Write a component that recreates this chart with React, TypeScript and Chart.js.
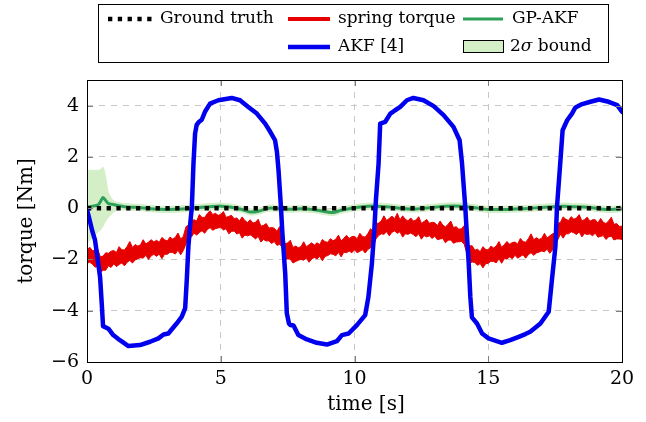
import React, { useEffect, useRef } from 'react';
import { Chart, registerables } from 'chart.js';
Chart.register(...registerables);

// ---------- data ----------
const X_TICKS = [0, 5, 10, 15, 20];
const Y_TICKS = [-6, -4, -2, 0, 2, 4];

const GT_T = [0, 20];
const GT_V = [0, 0];

// spring torque: upper / lower envelope of the noisy measurement, sampled every 0.1 s
const RED_UP = [
  -1.63, -1.52, -1.65, -1.65, -1.6, -1.9, -1.87, -1.74, -1.76, -1.68,
  -1.65, -1.73, -1.5, -1.62, -1.63, -1.49, -1.3, -1.53, -1.42, -1.48,
  -1.43, -1.23, -1.4, -1.32, -1.23, -1.32, -1.25, -1.33, -1.14, -1.23,
  -1.28, -1.13, -1.2, -1.14, -0.97, -1.2, -1.1, -0.72, -0.66, -0.5,
  -0.45, -0.5, -0.25, -0.36, -0.36, -0.21, -0.1, -0.25, -0.2, -0.28,
  -0.25, -0.13, -0.36, -0.32, -0.28, -0.41, -0.38, -0.5, -0.34, -0.48,
  -0.56, -0.45, -0.58, -0.55, -0.43, -0.7, -0.67, -0.6, -0.78, -0.75,
  -0.78, -0.9, -0.72, -0.99, -1.38, -1.36, -1.25, -1.53, -1.48, -1.54,
  -1.5, -1.31, -1.5, -1.43, -1.35, -1.44, -1.35, -1.42, -1.22, -1.31,
  -1.33, -1.19, -1.27, -1.21, -1.05, -1.28, -1.17, -1.06, -1.18, -1.11,
  -1.1, -1.19, -0.98, -1.1, -1.13, -0.99, -0.8, -0.9, -0.6, -0.58,
  -0.5, -0.3, -0.48, -0.4, -0.31, -0.41, -0.2, -0.46, -0.3, -0.43,
  -0.5, -0.38, -0.5, -0.46, -0.33, -0.59, -0.52, -0.44, -0.59, -0.55,
  -0.57, -0.68, -0.5, -0.66, -0.73, -0.63, -0.5, -0.76, -0.72, -0.82,
  -0.8, -0.68, -1.33, -1.47, -1.47, -1.64, -1.6, -1.7, -1.5, -1.6,
  -1.63, -1.48, -1.55, -1.48, -1.3, -1.53, -1.42, -1.3, -1.41, -1.34,
  -1.32, -1.4, -1.18, -1.3, -1.33, -1.19, -1.0, -1.23, -1.15, -1.22,
  -1.17, -0.98, -1.16, -1.08, -1.0, -0.96, -0.6, -0.55, -0.34, -0.43,
  -0.48, -0.33, -0.43, -0.38, -0.25, -0.5, -0.44, -0.35, -0.51, -0.45,
  -0.45, -0.58, -0.4, -0.55, -0.6, -0.5, -0.35, -0.63, -0.6, -0.71,
  -0.7,
];
const RED_LO = [
  -2.15, -2.11, -2.18, -2.3, -2.27, -2.52, -2.42, -2.42, -2.25, -2.31,
  -2.17, -2.28, -2.2, -2.14, -2.25, -2.11, -2.04, -2.14, -2.02, -1.97,
  -1.93, -1.95, -1.84, -2.0, -1.86, -1.8, -1.88, -1.79, -1.97, -1.8,
  -1.8, -1.72, -1.73, -1.79, -1.64, -1.82, -1.65, -1.4, -1.15, -1.13,
  -0.97, -1.05, -0.95, -0.88, -0.98, -0.83, -0.76, -0.86, -0.8, -0.77,
  -0.75, -0.85, -0.8, -1.0, -0.91, -0.89, -1.01, -0.96, -1.17, -1.05,
  -1.08, -1.04, -1.11, -1.2, -1.1, -1.32, -1.22, -1.28, -1.27, -1.38,
  -1.3, -1.45, -1.42, -1.51, -2.0, -1.98, -1.99, -2.14, -2.08, -2.03,
  -2.0, -2.03, -1.94, -2.11, -1.98, -1.92, -1.98, -1.88, -2.05, -1.88,
  -1.85, -1.78, -1.8, -1.86, -1.72, -1.9, -1.72, -1.74, -1.67, -1.74,
  -1.62, -1.74, -1.68, -1.62, -1.75, -1.61, -1.54, -1.51, -1.2, -1.07,
  -1.0, -1.02, -0.92, -1.08, -0.94, -0.89, -0.98, -0.92, -1.13, -1.0,
  -1.02, -0.97, -1.03, -1.11, -1.0, -1.21, -1.07, -1.12, -1.08, -1.18,
  -1.09, -1.23, -1.2, -1.18, -1.35, -1.25, -1.24, -1.37, -1.32, -1.31,
  -1.3, -1.4, -1.77, -2.15, -2.1, -2.12, -2.23, -2.16, -2.33, -2.17,
  -2.15, -2.07, -2.08, -2.13, -1.97, -2.15, -1.97, -1.98, -1.9, -1.97,
  -1.84, -1.95, -1.88, -1.82, -1.95, -1.81, -1.74, -1.84, -1.75, -1.71,
  -1.67, -1.7, -1.6, -1.76, -1.63, -1.44, -1.23, -1.01, -1.17, -1.0,
  -1.0, -0.92, -0.96, -1.03, -0.92, -1.12, -0.99, -1.03, -1.0, -1.08,
  -0.97, -1.13, -1.1, -1.07, -1.22, -1.12, -1.09, -1.24, -1.2, -1.2,
  -1.22,
];
const RED_STEP = 0.1;

// GP-AKF estimate and its 2-sigma bound
const GP_T = [
  0, 0.2, 0.4, 0.5, 0.6, 0.7, 0.8, 1.0, 1.2, 1.5,
  2.0, 2.5, 2.9, 3.3, 3.8, 4.2, 4.6, 5.0, 5.4, 5.8,
  6.1, 6.4, 6.8, 7.2, 7.6, 8.0, 8.5, 9.0, 9.2, 9.5,
  9.8, 10.3, 10.8, 11.3, 11.8, 12.3, 12.8, 13.4, 14.0, 14.5,
  15.0, 15.5, 16.0, 16.5, 17.0, 17.5, 17.8, 18.2, 18.7, 19.2,
  19.6, 20.0,
];
const GP_MEAN = [
  0.05, 0.08, 0.12, 0.25, 0.42, 0.3, 0.18, 0.14, 0.1, 0.05,
  0.02, -0.03, -0.05, -0.04, -0.01, 0.03, 0.06, 0.08, 0.04, -0.05,
  -0.15, -0.12, 0.0, -0.02, -0.04, -0.02, -0.06, -0.15, -0.17, -0.08,
  -0.02, 0.06, 0.08, 0.05, -0.01, -0.03, 0.02, 0.08, 0.08, 0.02,
  -0.05, -0.05, -0.03, -0.01, 0.03, 0.06, 0.08, 0.06, 0.04, -0.03,
  -0.05, -0.02,
];
const GP_UP = [
  1.48, 1.48, 1.48, 1.5, 1.6, 1.2, 0.6, 0.28, 0.22, 0.17,
  0.14, 0.09, 0.07, 0.08, 0.11, 0.15, 0.18, 0.2, 0.16, 0.07,
  -0.03, 0.0, 0.12, 0.1, 0.08, 0.1, 0.06, -0.03, -0.05, 0.04,
  0.1, 0.18, 0.2, 0.17, 0.11, 0.09, 0.14, 0.2, 0.2, 0.14,
  0.07, 0.07, 0.09, 0.11, 0.15, 0.18, 0.2, 0.18, 0.16, 0.09,
  0.07, 0.1,
];
const GP_LO = [
  -1.35, -1.15, -0.95, -0.85, -0.7, -0.5, -0.35, -0.15, -0.06, -0.08,
  -0.1, -0.15, -0.17, -0.16, -0.13, -0.09, -0.06, -0.04, -0.08, -0.17,
  -0.27, -0.24, -0.12, -0.14, -0.16, -0.14, -0.18, -0.27, -0.29, -0.2,
  -0.14, -0.06, -0.04, -0.07, -0.13, -0.15, -0.1, -0.04, -0.04, -0.1,
  -0.17, -0.17, -0.15, -0.13, -0.09, -0.06, -0.04, -0.06, -0.08, -0.15,
  -0.17, -0.14,
];

// AKF [4]
const AKF_T = [
  0, 0.07, 0.2, 0.3, 0.4, 0.49, 0.55, 0.6, 0.8, 0.98,
  1.23, 1.55, 1.98, 2.36, 2.67, 2.86, 3.04, 3.35, 3.54, 3.67,
  3.73, 3.79, 3.86, 3.92, 3.98, 4.04, 4.1, 4.17, 4.29, 4.41,
  4.6, 4.91, 5.41, 5.72, 6.03, 6.35, 6.66, 6.85, 7.03, 7.1,
  7.16, 7.25, 7.3, 7.41, 7.47, 7.55, 7.6, 7.72, 7.9, 8.22,
  8.59, 8.97, 9.34, 9.53, 9.78, 10.09, 10.4, 10.52, 10.65, 10.74,
  10.8, 10.9, 10.96, 11.15, 11.34, 11.52, 11.71, 11.96, 12.2, 12.58,
  12.96, 13.33, 13.7, 13.93, 14.02, 14.14, 14.2, 14.27, 14.33, 14.39,
  14.58, 14.77, 15.01, 15.51, 15.82, 16.14, 16.39, 16.57, 16.95, 17.26,
  17.38, 17.51, 17.57, 17.69, 17.78, 17.95, 18.13, 18.26, 18.51, 18.82,
  19.14, 19.5, 19.82, 20,
];
const AKF_V = [
  -0.05, -0.35, -0.9, -1.25, -2.0, -2.7, -3.7, -4.6, -4.7, -4.95,
  -5.15, -5.38, -5.34, -5.21, -5.08, -4.93, -4.89, -4.5, -4.24, -3.9,
  -2.8, -1.5, -0.6, 0.05, 1.74, 2.91, 3.25, 3.35, 3.45, 3.76,
  4.08, 4.21, 4.3, 4.21, 3.95, 3.69, 3.3, 2.98, 2.65, 2.2,
  1.48, 0.05, -0.9, -2.55, -4.1, -4.5, -4.56, -4.58, -4.95, -5.12,
  -5.25, -5.32, -5.19, -4.95, -4.89, -4.56, -4.17, -3.46, -2.16, -0.86,
  0.3, 1.74, 3.3, 3.37, 3.69, 3.82, 3.95, 4.21, 4.3, 4.21,
  3.98, 3.63, 3.17, 2.65, 1.74, 0.05, -1.0, -2.16, -3.46, -4.26,
  -4.5, -4.89, -5.08, -5.25, -5.15, -5.02, -4.91, -4.82, -4.5, -4.04,
  -2.8, -1.5, 0.05, 1.74, 3.04, 3.43, 3.69, 3.93, 4.06, 4.15,
  4.24, 4.15, 4.02, 3.76,
];

// ---------- styles ----------
const RED = '#e60000';
const BLUE = '#0000ee';
const GREEN = '#2ea05a';
const BAND = '#d4eec8';
const SERIF = '"DejaVu Serif", serif';

const pts = (xs: number[], ys: number[]) => xs.map((x, i) => ({ x, y: ys[i] }));
const fmt = (v: number) => (v < 0 ? '\u2212' + Math.abs(v) : String(v));

const framePlugin = {
  id: 'pgfFrame',
  afterDatasetsDraw(chart: any) {
    const { ctx, chartArea: a, scales } = chart;
    ctx.save();
    ctx.strokeStyle = '#808080';
    ctx.lineWidth = 1;
    const tl = 6;
    X_TICKS.forEach((t) => {
      const x = Math.round(scales.x.getPixelForValue(t)) + 0.5;
      ctx.beginPath();
      ctx.moveTo(x, a.bottom); ctx.lineTo(x, a.bottom - tl);
      ctx.moveTo(x, a.top); ctx.lineTo(x, a.top + tl);
      ctx.stroke();
    });
    Y_TICKS.forEach((t) => {
      const y = Math.round(scales.y.getPixelForValue(t)) + 0.5;
      ctx.beginPath();
      ctx.moveTo(a.left, y); ctx.lineTo(a.left + tl, y);
      ctx.moveTo(a.right, y); ctx.lineTo(a.right - tl, y);
      ctx.stroke();
    });
    ctx.strokeStyle = '#000';
    ctx.strokeRect(Math.round(a.left) + 0.5, Math.round(a.top) + 0.5,
      Math.round(a.right - a.left), Math.round(a.bottom - a.top));
    ctx.restore();
  },
};

const legendPlugin = {
  id: 'pgfLegend',
  afterDraw(chart: any) {
    const ctx = chart.ctx;
    ctx.save();
    // x-axis title
    ctx.font = '20px ' + SERIF;
    ctx.fillStyle = '#000';
    ctx.textAlign = 'center';
    ctx.textBaseline = 'middle';
    ctx.fillText('time [s]', 366, 405);

    ctx.strokeStyle = '#000';
    ctx.lineWidth = 1;
    ctx.strokeRect(98.5, 4.5, 510, 58);
    const font = '17px ' + SERIF;
    ctx.font = font;
    ctx.textAlign = 'left';
    const r1 = 19, r2 = 47;
    const line = (x1: number, x2: number, y: number, color: string, w: number, dash: number[] = []) => {
      ctx.save();
      ctx.strokeStyle = color; ctx.lineWidth = w; ctx.setLineDash(dash); ctx.lineCap = 'butt';
      ctx.beginPath(); ctx.moveTo(x1, y); ctx.lineTo(x2, y); ctx.stroke();
      ctx.restore();
    };
    line(108, 152, r1, '#000', 4.5, [4.3, 5.5]);
    ctx.fillText('Ground truth', 160, r1);
    line(288, 330, r1, RED, 4);
    ctx.fillText('spring torque', 338, r1);
    line(463, 503, r1, GREEN, 3);
    ctx.fillText('GP-AKF', 512, r1);
    line(288, 330, r2, BLUE, 4.5);
    ctx.fillText('AKF [4]', 338, r2);
    ctx.fillStyle = BAND;
    ctx.fillRect(463.5, r2 - 6.5, 40, 12);
    ctx.strokeRect(463.5, r2 - 6.5, 40, 12);
    ctx.fillStyle = '#000';
    let x = 510;
    ctx.fillText('2', x, r2); x += ctx.measureText('2').width;
    ctx.font = 'italic ' + font;
    ctx.fillText('\u03c3', x, r2); x += ctx.measureText('\u03c3').width;
    ctx.font = font;
    ctx.fillText(' bound', x, r2);
    ctx.restore();
  },
};

export default function App() {
  const ref = useRef<HTMLCanvasElement | null>(null);
  useEffect(() => {
    if (!ref.current) return;
    const redT = RED_UP.map((_, i) => +(i * RED_STEP).toFixed(2));
    const chart = new Chart(ref.current, {
      type: 'line',
      data: {
        datasets: [
          { label: 'AKF [4]', data: pts(AKF_T, AKF_V), borderColor: BLUE, borderWidth: 4.5,
            pointRadius: 0, fill: false, order: 0, borderJoinStyle: 'round', borderCapStyle: 'round' } as any,
          { label: 'Ground truth', data: pts(GT_T, GT_V), borderColor: '#000', borderWidth: 4.5,
            borderDash: [4.3, 5.5], borderCapStyle: 'butt', pointRadius: 0, fill: false, order: 1 } as any,
          { label: 'GP-AKF', data: pts(GP_T, GP_MEAN), borderColor: GREEN, borderWidth: 3,
            pointRadius: 0, fill: false, order: 2, tension: 0.3 } as any,
          { label: 'spring torque', data: pts(redT, RED_UP), borderColor: RED, borderWidth: 1,
            backgroundColor: RED, pointRadius: 0, fill: '+1', order: 3 } as any,
          { label: 'spring lower', data: pts(redT, RED_LO), borderColor: RED, borderWidth: 1,
            pointRadius: 0, fill: false, order: 4 } as any,
          { label: '2σ bound', data: pts(GP_T, GP_UP), borderColor: BAND, borderWidth: 1,
            backgroundColor: BAND, pointRadius: 0, fill: '+1', order: 5, tension: 0.3 } as any,
          { label: 'band lower', data: pts(GP_T, GP_LO), borderColor: BAND, borderWidth: 1,
            pointRadius: 0, fill: false, order: 6, tension: 0.3 } as any,
        ],
      },
      options: {
        animation: false,
        responsive: true,
        maintainAspectRatio: false,
        layout: { padding: { top: 80, right: 24, left: 0, bottom: 0 } },
        plugins: { legend: { display: false }, tooltip: { enabled: false } },
        scales: {
          x: {
            type: 'linear', min: 0, max: 20,
            afterBuildTicks: (s: any) => { s.ticks = X_TICKS.map((v) => ({ value: v })); },
            afterFit: (s: any) => { s.height = 60; },
            ticks: { color: '#000', font: { family: SERIF, size: 19 }, padding: 6,
              callback: (v: any) => fmt(Number(v)), maxRotation: 0 },
            grid: { color: '#c8c8c8', lineWidth: 1, drawTicks: false },
            border: { display: false, dash: [6, 6] },
            title: { display: false },
          },
          y: {
            type: 'linear', min: -6, max: 5,
            afterBuildTicks: (s: any) => { s.ticks = Y_TICKS.map((v) => ({ value: v })); },
            afterFit: (s: any) => { s.width = 87; },
            ticks: { color: '#000', font: { family: SERIF, size: 19 }, padding: 8,
              callback: (v: any) => fmt(Number(v)) },
            grid: { color: '#c8c8c8', lineWidth: 1, drawTicks: false },
            border: { display: false, dash: [6, 6] },
            title: { display: true, text: 'torque [Nm]', color: '#000',
              font: { family: SERIF, size: 20 }, padding: { top: 15, bottom: 0 } },
          },
        },
      } as any,
      plugins: [framePlugin, legendPlugin],
    });
    return () => chart.destroy();
  }, []);
  return (
    <div style={{ position: 'fixed', left: 0, top: 0, width: 646, height: 422, background: '#fff' }}>
      <canvas ref={ref} />
    </div>
  );
}
